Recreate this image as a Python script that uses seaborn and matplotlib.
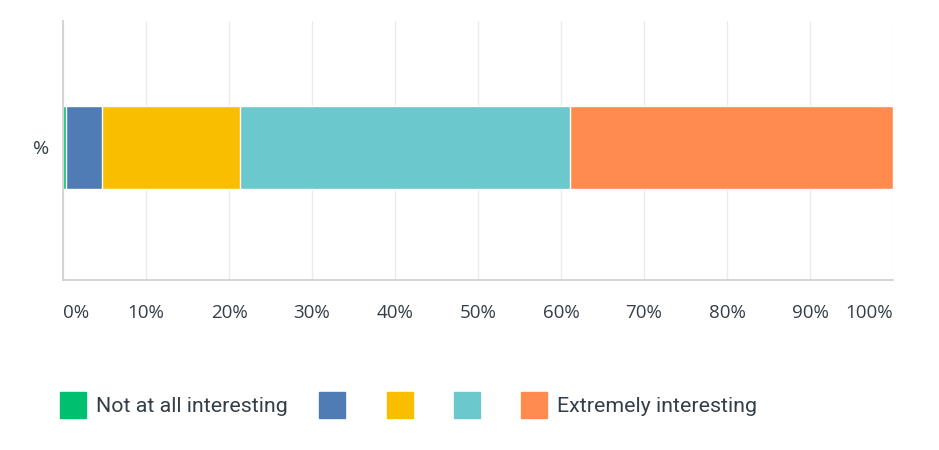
import matplotlib.pyplot as plt
from matplotlib.lines import Line2D
import numpy as np
import pandas as pd
import seaborn as sns

answers = ["Not at all interesting", "2", "3", "4", "Extremely interesting"]
legend_labels = ["Not at all interesting", "", "", "", "Extremely interesting"]
shares = [0.4, 4.3, 16.6, 39.8, 38.9]
colors = ["#00BF6F", "#507CB6", "#F9BE00", "#6BC8CD", "#FF8B4F"]
row_label = "%"
ticks = [0, 10, 20, 30, 40, 50, 60, 70, 80, 90, 100]

sns.set_theme(style="white")
plt.rcParams['font.family'] = ['Open Sans', 'DejaVu Sans']
text_col = "#333E48"

fig = plt.figure(figsize=(9.39, 4.5), dpi=100)
ax = fig.add_axes([63 / 939, 1 - 280 / 450, 830 / 939, 259 / 450])

# stacked bar: draw cumulative layers from the back
cum = np.cumsum(shares)
for i in range(len(shares) - 1, -1, -1):
    df = pd.DataFrame({"row": [row_label], "value": [cum[i]]})
    sns.barplot(data=df, x="value", y="row", color=colors[i], saturation=1,
                width=0.32, ax=ax, orient="h")

ax.set_xlim(0, 100)
ax.set_ylim(0.512, -0.488)
ax.set_xticks(ticks)
labels = ax.set_xticklabels([f"{t}%" for t in ticks], fontsize=13.5, color=text_col)
labels[0].set_ha("left")
labels[-1].set_ha("right")
ax.tick_params(axis="x", length=0, pad=17)
ax.tick_params(axis="y", length=0, pad=10, labelsize=14, labelcolor=text_col)
ax.set_xlabel("")
ax.set_ylabel("")
ax.xaxis.grid(True, color="#EBEBEB", linewidth=1)
ax.set_axisbelow(True)
for s in ["top", "right"]:
    ax.spines[s].set_visible(False)
ax.spines["left"].set_color("#D0D0D0")
ax.spines["bottom"].set_color("#D0D0D0")

handles = [Line2D([], [], marker="s", linestyle="", markersize=19,
                  markerfacecolor=c, markeredgecolor=c) for c in colors]
fig.legend(handles, legend_labels, loc="center left", bbox_to_anchor=(41 / 939, 1 - 407 / 450),
           ncol=5, frameon=False, handlelength=1.2, handletextpad=0.45,
           columnspacing=1.5, labelcolor=text_col,
           prop={"family": ["Roboto", "DejaVu Sans"], "size": 15.4})

fig.savefig("out.png", dpi=100)
